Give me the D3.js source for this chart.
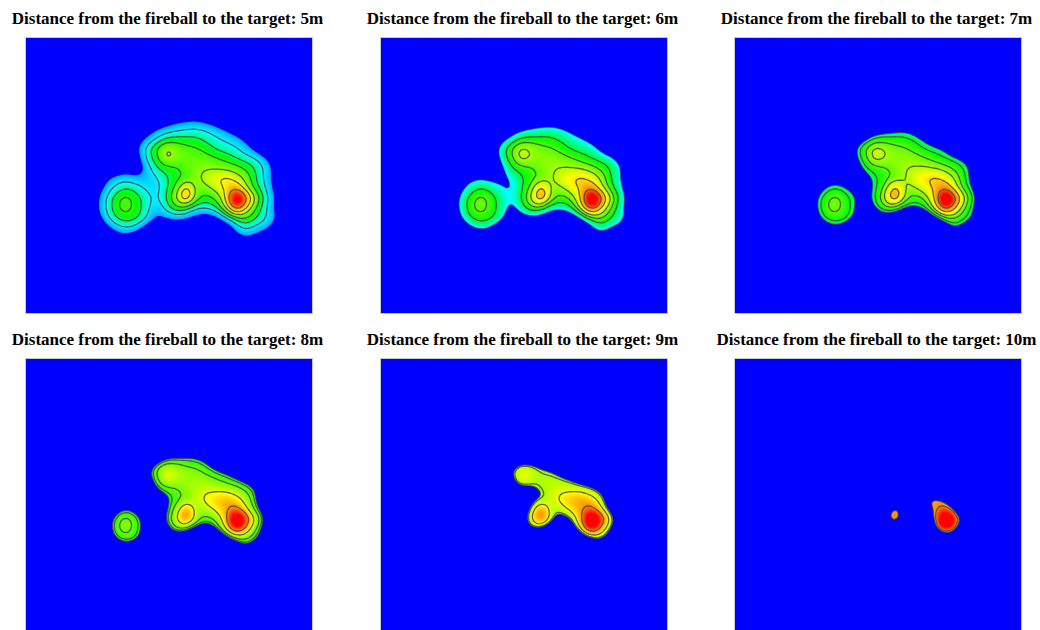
<!DOCTYPE html>
<html><head><meta charset="utf-8">
<script src="https://cdn.jsdelivr.net/npm/d3@7"></script>
<style>html,body{margin:0;padding:0;background:#fff;overflow:hidden}svg{display:block}</style>
</head><body><svg id="c" width="1040" height="630"></svg>
<script>
const distances = [5, 6, 7, 8, 9, 10];
const clipLevels = [33, 39, 44, 47.5, 54, 65.5];
const colorShifts = [0, 2, 2.5, 3.5, 4.5, 5];
const contourLevels = [
  [41, 47, 52.5, 59, 65, 72],
  [47, 52.5, 58, 65, 72],
  [47, 52.5, 57.5, 65, 72],
  [49, 52.5, 60, 68],
  [55, 60, 68],
  [68]
];
const edgeStroke = [0, 0.55, 0.65, 0.7, 0.8, 0.8];
const gridX = d3.range(60, 271, 10);
const gridY = d3.range(80, 211, 10);
const fieldValues = [
  [2,3,4,5,6,10,14,18,22,26,28,28,26,22,16,12,8,5,4,3,2,2],
  [3,4,5,7,10,16,24,30,35,38,40,41,39,35,30,24,18,12,7,4,3,2],
  [4,6,8,10,16,24,33,40,47,48,48,47.5,45,42,39,35,29,22,14,8,4,3],
  [4,7,10,14,20,30,42,52,59,57,54,53,50,46,44,42,36,28,18,10,5,3],
  [5,8,12,16,20,26,42,50,61,57,56,56,55,53,50,47,44,41,33,22,12,4],
  [5,10,16,22,26,24,36,46,50,52,55,57,58,58,57,55,51,46,39,27,15,5],
  [6,14,30,36,38,36,36,40,46,50,54,57,62,64.5,66.5,63,57,47,39,26,15,5],
  [8,24,36,43,47,44,40,38,46,54,69,56,57,62,66,71,61,49,41,28,16,5],
  [12,29,41,50,54.5,50,44,39.5,47,59,72,56,50,54,66,87,75,58,44,31,18,6],
  [14,30,41,51,55,50,44,36,43,51,50,42,42,46,60,77,65,52,42,30,17,6],
  [10,26,38,47,50,48,42,31,33,36,34,29,26,30,40,50,53,47,41,33,16,5],
  [6,16,28,37,41,38,28,20,20,20,18,16,16,18,24,36,43,38,35,25,11,4],
  [3,6,16,24,26,22,14,10,10,9,8,8,8,12,17,27,31,28,20,11,5,3],
  [2,3,6,10,11,9,6,5,4,4,4,3,3,5,8,12,14,10,6,4,3,2]
];
const colorStops = [28, 31, 42, 50, 65, 73, 80];
const colorNames = ["#0000ff", "#0090ff", "#00ffff", "#00ff00", "#ffff00", "#ff8000", "#ff0000"];
const panelLefts = [26, 381, 735];
const panelTops = [38, 359];
const panelW = 286, panelH = 275;

const color = d3.scaleLinear().domain(colorStops).range(colorNames).clamp(true);

// display resampling of the read grid so that the bands render smoothly
const factor = 5;
const cols = gridX.length, rows = gridY.length;
const W = (cols - 1) * factor + 1, H = (rows - 1) * factor + 1;
function cr(a, b, c, d, t) {
  return 0.5 * (2*b + (c-a)*t + (2*a-5*b+4*c-d)*t*t + (3*b-a-3*c+d)*t*t*t);
}
const at = (j, i) => fieldValues[Math.max(0, Math.min(rows-1, j))][Math.max(0, Math.min(cols-1, i))];
const fine = new Float64Array(W * H);
for (let y = 0; y < H; y++) for (let x = 0; x < W; x++) {
  const i = Math.min(cols-2, Math.floor(x / factor)), tx = x / factor - i;
  const j = Math.min(rows-2, Math.floor(y / factor)), ty = y / factor - j;
  const col = k => cr(at(j+k, i-1), at(j+k, i), at(j+k, i+1), at(j+k, i+2), tx);
  fine[y * W + x] = cr(col(-1), col(0), col(1), col(2), ty);
}
d3.blur2({data: fine, width: W, height: H}, 1.5);

const svg = d3.select("#c");
const contours = d3.contours().size([W, H]).smooth(true);
const bandStep = 0.7;

distances.forEach((d, n) => {
  const left = panelLefts[n % 3], top = panelTops[Math.floor(n / 3)];
  const sx = d3.scaleLinear().domain([0, W - 1]).range([gridX[0], gridX[cols-1]]);
  const sy = d3.scaleLinear().domain([0, H - 1]).range([gridY[0], gridY[rows-1]]);
  const path = d3.geoPath(d3.geoTransform({ point(x, y) { this.stream.point(sx(x - 0.5), sy(y - 0.5)); } }));
  svg.append("text").attr("x", left + 141.5).attr("y", top - 14)
    .attr("text-anchor", "middle")
    .attr("font-family", "Liberation Serif").attr("font-size", 17).attr("font-weight", 700)
    .attr("fill", "#000").text(`Distance from the fireball to the target: ${d}m`);
  const g = svg.append("g").attr("transform", `translate(${left},${top})`);
  const defsId = `clip${n}`;
  g.append("clipPath").attr("id", defsId).append("rect").attr("width", panelW).attr("height", panelH);
  const inner = g.append("g").attr("clip-path", `url(#${defsId})`);
  inner.append("rect").attr("width", panelW).attr("height", panelH).attr("fill", "#0000ff");
  const th = d3.range(clipLevels[n], 90, bandStep);
  inner.append("g").selectAll("path").data(contours.thresholds(th)(fine)).join("path")
    .attr("d", path).attr("fill", c => color(c.value + bandStep / 2 + colorShifts[n]));
  if (edgeStroke[n] > 0) {
    inner.append("path").datum(contours.contour(fine, clipLevels[n]))
      .attr("d", path).attr("fill", "none").attr("stroke", "#444").attr("stroke-opacity", edgeStroke[n]).attr("stroke-width", 1.2);
  }
  inner.append("g").selectAll("path").data(contourLevels[n].map(l => contours.contour(fine, l))).join("path")
    .attr("d", path).attr("fill", "none").attr("stroke", "#505050").attr("stroke-opacity", 0.9).attr("stroke-width", 1.3);
  g.append("rect").attr("x", -0.5).attr("y", -0.5).attr("width", panelW + 1).attr("height", panelH + 1)
    .attr("fill", "none").attr("stroke", "#c8c8c8").attr("stroke-width", 1);
});
</script></body></html>
